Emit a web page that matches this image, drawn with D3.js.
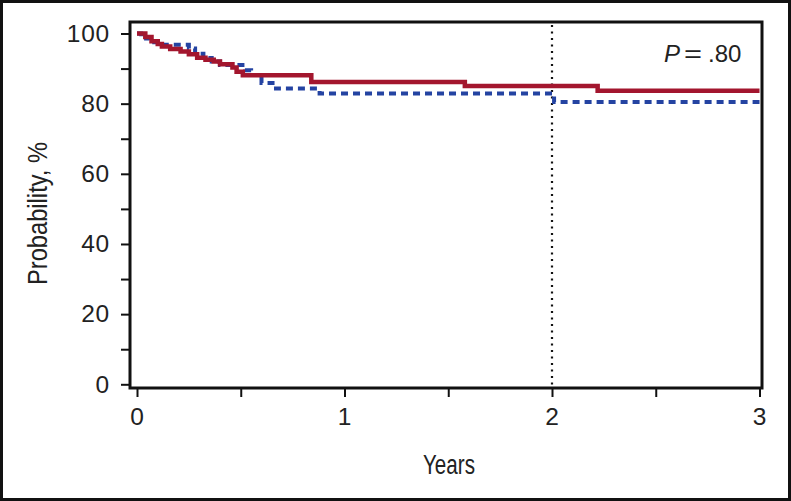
<!DOCTYPE html>
<html><head><meta charset="utf-8">
<script src="https://cdn.jsdelivr.net/npm/d3@7"></script>
<style>body{margin:0;background:#fff}svg{display:block}</style>
</head><body><svg id="c" width="791" height="501"></svg>
<script>
// ---- data ----
const redTimes = [0, 0.04, 0.07, 0.10, 0.12, 0.16, 0.21, 0.25, 0.29, 0.33, 0.37, 0.40, 0.46, 0.48, 0.51, 0.84, 1.58, 2.22, 3.0];
const redProb  = [100, 99.0, 97.8, 97.0, 96.3, 95.6, 94.9, 94.1, 93.1, 92.5, 92.0, 91.2, 90.3, 89.1, 88.1, 86.2, 85.0, 83.7, 83.7];
const blueTimes = [0, 0.02, 0.06, 0.10, 0.25, 0.28, 0.32, 0.36, 0.40, 0.52, 0.55, 0.60, 0.67, 0.88, 2.01, 3.0];
const blueProb  = [100, 98.6, 97.5, 96.8, 95.7, 94.2, 93.0, 92.0, 91.0, 89.5, 88.2, 85.9, 84.3, 82.9, 80.5, 80.5];
const yTicks = [0,10,20,30,40,50,60,70,80,90,100];
const yLabels = ["0","","20","","40","","60","","80","","100"];
const xTicks = [0,0.5,1,1.5,2,2.5,3];
const xLabels = ["0","","1","","2","","3"];
const landmark = 2;
const pText = ".80";

const svg = d3.select("#c");
const W = 791, H = 501;
const x = d3.scaleLinear([0,3],[137,759.5]);
const y = d3.scaleLinear([0,100],[384.3,33.5]);
const font = "'Liberation Sans', Arial, Helvetica, sans-serif";
const narrow = "'Liberation Sans Narrow', 'Liberation Sans', Arial, sans-serif";

svg.append("rect").attr("width",W).attr("height",H).attr("fill","#fff");
// outer border
svg.append("rect").attr("x",1.5).attr("y",1.5).attr("width",W-3).attr("height",H-3)
  .attr("fill","none").attr("stroke","#111").attr("stroke-width",3);

// axes
const yAxis = d3.axisLeft(y).tickValues(yTicks).tickSize(8).tickPadding(11)
  .tickFormat((d,i)=>yLabels[i]);
const gy = svg.append("g").attr("transform","translate(129,0)").call(yAxis);
const xAxis = d3.axisBottom(x).tickValues(xTicks).tickSize(8).tickPadding(11)
  .tickFormat((d,i)=>xLabels[i]);
const gx = svg.append("g").attr("transform","translate(0,389)").call(xAxis);
[gx,gy].forEach(g=>{
  g.select(".domain").remove();
  g.selectAll(".tick line").attr("stroke","#111").attr("stroke-width",2);
  g.selectAll(".tick text").attr("fill","#222").style("font-family",font).style("font-size","24.5px")
    .style("letter-spacing","0.8px");
});

// landmark dotted line
svg.append("line").attr("x1",x(landmark)).attr("x2",x(landmark)).attr("y1",25).attr("y2",386)
  .attr("stroke","#111").attr("stroke-width",2.2).attr("stroke-dasharray","2,4.5");

const line = d3.line().curve(d3.curveStepAfter).x(d=>x(d[0])).y(d=>y(d[1]));
const blue = blueTimes.map((t,i)=>[t,blueProb[i]]);
const red = redTimes.map((t,i)=>[t,redProb[i]]);
svg.append("path").datum(blue).attr("d",line).attr("fill","none")
  .attr("stroke","#2443a2").attr("stroke-width",4).attr("stroke-dasharray","7,5");
svg.append("path").datum(red).attr("d",line).attr("fill","none")
  .attr("stroke","#a3162e").attr("stroke-width",4.5);

// plot frame
svg.append("rect").attr("x",130).attr("y",22).attr("width",632).attr("height",366)
  .attr("fill","none").attr("stroke","#111").attr("stroke-width",3);

// P value
const pg = svg.append("g").attr("fill","#222").style("font-family",font);
pg.append("text").attr("x",664).attr("y",62).style("font-size","24px").attr("font-style","italic").text("P");
pg.append("text").attr("x",684).attr("y",62).style("font-size","24px")
  .attr("textLength",18).attr("lengthAdjust","spacingAndGlyphs").text("=");
pg.append("text").attr("x",708).attr("y",62).style("font-size","24px").text(pText);

// axis titles
svg.append("text").attr("x",449).attr("y",474).attr("text-anchor","middle")
  .attr("fill","#222").style("font-family",narrow).style("font-size","27px")
  .attr("textLength",52).attr("lengthAdjust","spacingAndGlyphs").text("Years");
svg.append("text").attr("transform","translate(47,213.5) rotate(-90)").attr("text-anchor","middle")
  .attr("fill","#222").style("font-family",narrow).style("font-size","27px")
  .attr("textLength",143).attr("lengthAdjust","spacingAndGlyphs").text("Probability, %");
</script>
</body></html>
